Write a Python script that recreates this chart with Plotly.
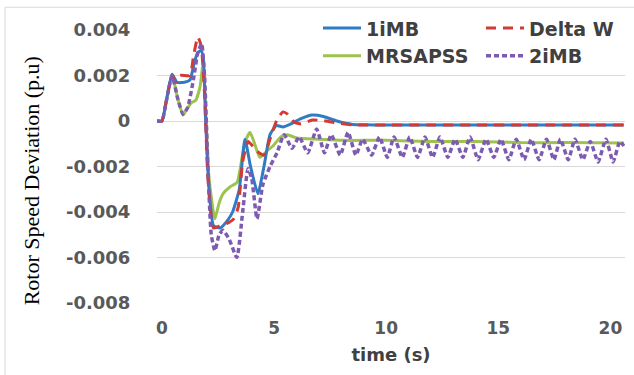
import plotly.graph_objects as go

# ---- data ----
t_1imb = [-0.22, 0.0, 0.2, 0.45, 0.67, 1.0, 1.25, 1.45, 1.6, 1.75, 1.85, 1.95, 2.1, 2.3, 2.6, 2.9,
          3.15, 3.45, 3.7, 3.95, 4.28, 4.55, 4.82, 5.1, 5.4, 5.8, 6.2, 6.7, 7.2, 7.8, 8.5, 9.0,
          10, 12, 14, 16, 18, 20.6]
y_1imb = [0, 0, 0.0009, 0.00205, 0.0017, 0.0017, 0.0018, 0.0026, 0.0030, 0.0031, 0.0027, 0.0,
          -0.0030, -0.0046, -0.0047, -0.0044, -0.0040, -0.0030, -0.0008, -0.0020, -0.0032, -0.0020,
          -0.0006, -0.0002, -0.00026, -0.0001, 0.0001, 0.00026, 0.0002, 0.0, -0.00015, -0.00017,
          -0.00018, -0.00018, -0.00018, -0.00018, -0.00018, -0.00018]

t_dw = [-0.22, 0.0, 0.2, 0.45, 0.6, 0.8, 1.25, 1.4, 1.6, 1.75, 1.9, 2.05, 2.3, 2.6, 2.9, 3.2,
        3.4, 3.6, 3.85, 4.2, 4.55, 4.85, 5.15, 5.4, 5.6, 5.9, 6.2, 6.7, 7.2, 7.9, 8.5, 9.0,
        10, 12, 14, 16, 18, 20.6]
y_dw = [0, 0, 0.0009, 0.0020, 0.0017, 0.0020, 0.0020, 0.0028, 0.0037, 0.0033, 0.0012, -0.0025,
        -0.0047, -0.0046, -0.0045, -0.0043, -0.0038, -0.0018, -0.0009, -0.0013, -0.0015, -0.0007,
        0.0001, 0.0004, 0.0003, -0.00005, -0.00013, 0.00004, 0.00002, -0.0001, -0.00017, -0.00018,
        -0.00018, -0.00018, -0.00018, -0.00018, -0.00018, -0.00018]

t_mrs = [-0.22, 0.0, 0.2, 0.45, 0.7, 0.94, 1.1, 1.3, 1.5, 1.7, 1.83, 1.95, 2.1, 2.36, 2.55, 2.72,
         3.03, 3.35, 3.61, 3.8, 3.93, 4.1, 4.37, 4.7, 4.95, 5.3, 5.6, 6.0, 7.0, 8.0, 10, 12, 14,
         16, 18, 20.6]
y_mrs = [0, 0, 0.0009, 0.00205, 0.0010, 0.00026, 0.0005, 0.0008, 0.0009, 0.0015, 0.0025, 0.0005,
         -0.0025, -0.0043, -0.0036, -0.0032, -0.0029, -0.0027, -0.0014, -0.0007, -0.0005, -0.0009,
         -0.0016, -0.0013, -0.0011, -0.0007, -0.0006, -0.00075, -0.0008, -0.00085, -0.00085,
         -0.0009, -0.0009, -0.00095, -0.00095, -0.00097]

t_2imb = [-0.22, 0.0, 0.2, 0.45, 0.7, 0.94, 1.15, 1.4, 1.6, 1.77, 1.9, 2.05, 2.2, 2.36, 2.55,
          2.72, 3.0, 3.34, 3.6, 3.84, 4.0, 4.24, 4.5, 4.82, 5.13,
          5.45, 5.8, 6.12, 6.5, 6.9, 7.25, 7.55, 7.95, 8.3, 8.65, 8.95, 9.35, 9.7, 10.05,
          10.35, 10.72, 11.05, 11.4, 11.73, 12.07, 12.4, 12.75, 13.07, 13.42, 13.74, 14.1,
          14.45, 14.8, 15.12, 15.47, 15.8, 16.15, 16.47, 16.82, 17.15, 17.48, 17.77, 18.12,
          18.42, 18.77, 19.1, 19.45, 19.8, 20.12, 20.42, 20.6]
y_2imb = [0, 0, 0.0009, 0.0020, 0.0010, 0.0003, 0.0006, 0.0018, 0.0030, 0.0034, 0.0020, -0.0020,
          -0.0050, -0.0057, -0.0050, -0.0048, -0.0052, -0.0060, -0.0040, -0.0021, -0.0025,
          -0.0043, -0.0028, -0.0020, -0.0014,
          -0.0006, -0.0012, -0.0007, -0.0014, -0.00035, -0.0014, -0.0006, -0.0015, -0.0005,
          -0.0015, -0.0008, -0.0015, -0.0007, -0.0016, -0.0007, -0.0016, -0.0007, -0.0016,
          -0.0007, -0.0016, -0.0007, -0.0016, -0.0008, -0.0016, -0.0007, -0.0017, -0.0008,
          -0.0016, -0.0008, -0.0017, -0.0008, -0.0017, -0.0008, -0.0017, -0.0008, -0.0017,
          -0.0008, -0.0017, -0.0008, -0.0017, -0.0009, -0.0018, -0.0008, -0.0018, -0.0009,
          -0.0011]

y_tickvals = [0.004, 0.002, 0, -0.002, -0.004, -0.006, -0.008]
y_ticktext = ["0.004", "0.002", "0", "-0.002", "-0.004", "-0.006", "-0.008"]
x_tickvals = [0, 5, 10, 15, 20]
x_ticktext = ["0", "5", "10", "15", "20"]

# name, x, y, colour, dash, width, legend id, rank
series = [
    ("1iMB", t_1imb, y_1imb, "#2F7BC4", "solid", 3, "legend", 1),
    ("Delta W", t_dw, y_dw, "#D23B33", "10px,7px", 3, "legend2", 1),
    ("MRSAPSS", t_mrs, y_mrs, "#9DC34E", "solid", 3, "legend", 2),
    ("2iMB", t_2imb, y_2imb, "#7D5BB0", "5px,3px", 3.5, "legend2", 2),
]

fig = go.Figure()
order = [2, 0, 1, 3]
for i in order:
    name, t, y, col, dash, w, leg, rank = series[i]
    fig.add_trace(go.Scatter(
        x=t, y=y, name=name, mode="lines",
        line=dict(color=col, width=w, dash=dash, shape="spline", smoothing=0.5),
        legend=leg, legendrank=rank, legendgroup=name,
    ))

legfont = dict(family="DejaVu Sans", size=19, color="#404040", weight="bold")
common_leg = dict(orientation="v", yanchor="top", xanchor="left", bgcolor="rgba(0,0,0,0)",
                  font=legfont, itemwidth=38, tracegroupgap=0, traceorder="grouped")

fig.update_layout(
    width=634, height=375,
    margin=dict(l=157, r=9, t=27, b=72),
    paper_bgcolor="white", plot_bgcolor="white",
    showlegend=True,
    legend=dict(x=(318 - 157) / 468, y=(303 - 6) / 276, **common_leg),
    legend2=dict(x=(481 - 157) / 468, y=(303 - 6) / 276, **common_leg),
    xaxis=dict(
        range=[-0.22, 20.65], tickvals=x_tickvals, ticktext=x_ticktext,
        showgrid=False, zeroline=False, showline=False,
        tickfont=dict(family="DejaVu Sans", size=17, color="#595959", weight="bold"),
        ticks="outside", ticklen=10, tickcolor="rgba(0,0,0,0)",
        title=dict(text="time (s)", standoff=10,
                   font=dict(family="DejaVu Sans", size=18, color="#404040", weight="bold")),
    ),
    yaxis=dict(
        range=[-0.008, 0.004], tickvals=y_tickvals, ticktext=y_ticktext,
        showgrid=True, gridcolor="#D9D9D9", gridwidth=1, zeroline=False, showline=False,
        tickfont=dict(family="DejaVu Sans", size=18, color="#595959", weight="bold"),
        ticks="outside", ticklen=22, tickcolor="rgba(0,0,0,0)",
    ),
    annotations=[dict(
        text="Rotor Speed Deviation (p.u)", textangle=-90,
        x=(31 - 157) / 468, y=(303 - 180) / 276, xref="paper", yref="paper", showarrow=False,
        xanchor="center", yanchor="middle",
        font=dict(family="Liberation Serif", size=22, color="black"),
    )],
    shapes=[dict(type="rect", xref="paper", yref="paper",
                 x0=-0.3248, x1=1.03, y0=-0.27, y1=1.0833,
                 line=dict(color="#D9D9D9", width=1), layer="below")],
)

fig.write_html("out.html")
